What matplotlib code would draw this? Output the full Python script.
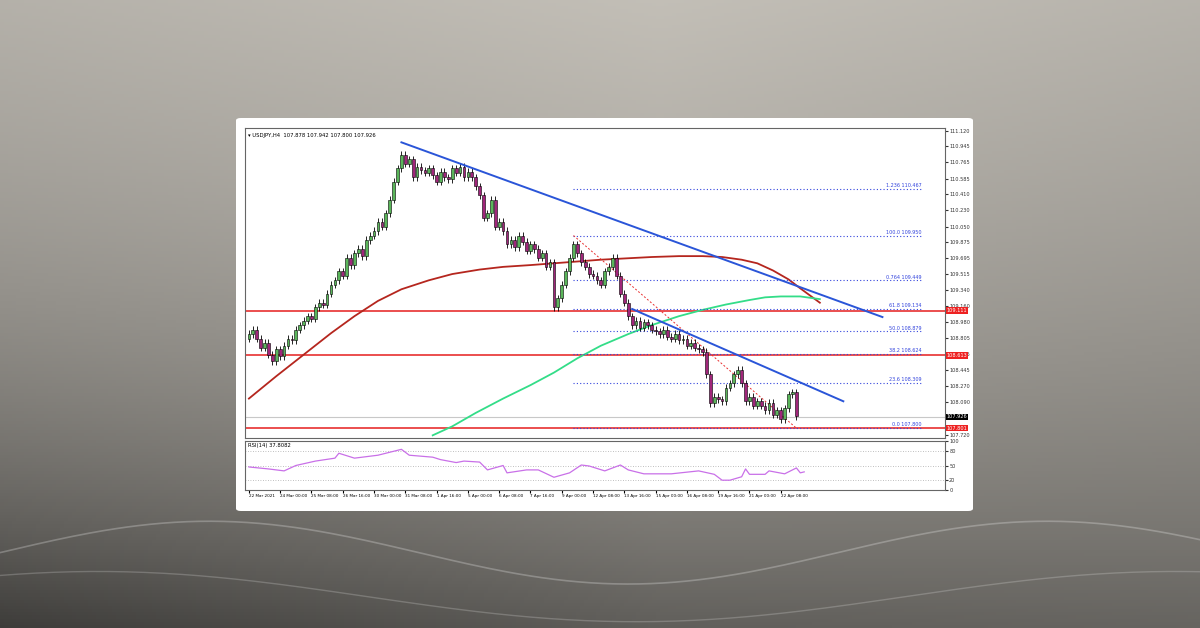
import matplotlib.pyplot as plt
import numpy as np
from matplotlib.patches import Rectangle, FancyBboxPatch

# ---- data ----
closes = [
    108.85, 108.90, 108.80, 108.70, 108.75, 108.62, 108.55, 108.68, 108.60, 108.72,
    108.80, 108.78, 108.90, 108.95, 109.00, 109.05, 109.02, 109.15, 109.20, 109.18,
    109.30, 109.40, 109.45, 109.55, 109.50, 109.70, 109.62, 109.75, 109.80, 109.72,
    109.90, 109.95, 110.00, 110.10, 110.05, 110.20, 110.35, 110.55, 110.70, 110.85,
    110.75, 110.80, 110.60, 110.72, 110.68, 110.65, 110.70, 110.62, 110.55, 110.66,
    110.60, 110.58, 110.70, 110.65, 110.72, 110.60, 110.66, 110.60, 110.50, 110.40,
    110.15, 110.20, 110.35, 110.05, 110.10, 110.00, 109.85, 109.90, 109.82, 109.95,
    109.88, 109.78, 109.85, 109.80, 109.70, 109.75, 109.60, 109.65, 109.15, 109.25,
    109.40, 109.55, 109.70, 109.85, 109.75, 109.65, 109.60, 109.52, 109.50, 109.45,
    109.40, 109.55, 109.60, 109.70, 109.50, 109.30, 109.20, 109.05, 108.95, 109.00,
    108.92, 108.98, 108.95, 108.90, 108.88, 108.85, 108.90, 108.82, 108.80, 108.85,
    108.78, 108.80, 108.72, 108.75, 108.70, 108.68, 108.65, 108.40, 108.08, 108.15,
    108.12, 108.10, 108.25, 108.30, 108.40, 108.45, 108.30, 108.10, 108.15, 108.05,
    108.10, 108.05, 108.00, 108.08, 107.95, 108.00, 107.90, 108.02, 108.18, 108.20,
    107.93,
]
first_open = 108.80

ma_red_idx = [0, 7, 14, 21, 27, 33, 39, 46, 52, 59, 65, 72, 78, 90, 103, 110, 116,
              121, 126, 130, 134, 138, 141, 146]
ma_red_val = [108.13, 108.38, 108.62, 108.86, 109.05, 109.22, 109.35, 109.45, 109.52,
              109.57, 109.60, 109.62, 109.64, 109.68, 109.71, 109.72, 109.72,
              109.71, 109.68, 109.64, 109.56, 109.46, 109.36, 109.20]
ma_green_idx = [47, 52, 58, 65, 72, 78, 84, 90, 97, 103, 110, 116, 122, 128, 132,
                136, 141, 146]
ma_green_val = [107.72, 107.82, 107.97, 108.13, 108.28, 108.42, 108.58, 108.72, 108.85,
                108.95, 109.05, 109.12, 109.18, 109.23, 109.26, 109.27, 109.27, 109.24]

trend1 = ([39, 162], [110.99, 109.04])
trend2 = ([98, 152], [109.13, 108.10])

fib_levels = [110.467, 109.950, 109.449, 109.134, 108.879, 108.624, 108.309, 107.800]
fib_names = ["1.236", "100.0", "0.764", "61.8", "50.0", "38.2", "23.6", "0.0"]
fib_diag = ([83, 140], [109.95, 107.80])

red_levels = [109.111, 108.613, 107.801]
last_price = 107.926

yticks = [111.120, 110.945, 110.765, 110.585, 110.410, 110.230, 110.050, 109.875,
          109.695, 109.515, 109.340, 109.160, 108.980, 108.805, 108.625, 108.445,
          108.270, 108.090, 107.720]

rsi_idx = [0, 5, 9, 12, 17, 22, 23, 27, 33, 39, 41, 47, 49, 53, 55, 59, 61, 65, 66,
           71, 74, 78, 82, 85, 87, 91, 95, 97, 101, 108, 115, 119, 121, 123, 126,
           127, 128, 132, 133, 137, 140, 141, 142]
rsi_val = [47, 43, 39, 50, 59, 65, 75, 65, 71, 83, 71, 67, 62, 56, 59, 57, 41, 50, 35,
           41, 41, 26, 35, 51, 49, 39, 51, 41, 33, 33, 39, 32, 20, 20, 27,
           43, 32, 32, 39, 33, 45, 35, 37]

xlabels = ["22 Mar 2021", "24 Mar 00:00", "25 Mar 08:00", "26 Mar 16:00", "30 Mar 00:00",
           "31 Mar 08:00", "1 Apr 16:00", "5 Apr 00:00", "6 Apr 08:00", "7 Apr 16:00",
           "9 Apr 00:00", "12 Apr 08:00", "13 Apr 16:00", "15 Apr 00:00", "16 Apr 08:00",
           "19 Apr 16:00", "21 Apr 00:00", "22 Apr 08:00"]

W, H = 1200, 628
fig = plt.figure(figsize=(12, 6.28), dpi=100)

# ---- background (stand-in for the banknote photo) ----
bg = fig.add_axes([0, 0, 1, 1], zorder=-5)
yy, xx = np.mgrid[0:1:200j, 0:1:300j]
shade = 0.55 + 0.22 * yy - 0.10 * np.abs(xx - 0.55) - 0.25 * (1 - yy) ** 3 * (1 - 0.6 * xx)
img = np.dstack([shade * 0.99, shade * 0.97, shade * 0.93])
bg.imshow(np.clip(img, 0, 1), extent=[0, 1, 0, 1], aspect="auto", origin="lower")
t = np.linspace(0, 1, 200)
bg.plot(t, 0.12 + 0.05 * np.sin(t * 9), color="white", alpha=0.25, lw=1.2)
bg.plot(t, 0.05 + 0.04 * np.sin(t * 7 + 1), color="white", alpha=0.2, lw=1.0)
bg.add_patch(FancyBboxPatch((236 / W, 1 - 511 / H), 737 / W, 393 / H,
                            boxstyle="round,pad=0,rounding_size=0.004",
                            facecolor="white", edgecolor="none", zorder=5))
bg.set_xlim(0, 1)
bg.set_ylim(0, 1)
bg.axis("off")

# ---- main price axes ----
ax = fig.add_axes([245 / W, 1 - 438 / H, 700 / W, 310 / H])
ax.set_xlim(-1, 178)
ax.set_ylim(107.69, 111.15)

opens = [first_open] + closes[:-1]
for i, (o, c) in enumerate(zip(opens, closes)):
    hi, lo = max(o, c) + 0.04, min(o, c) - 0.04
    ax.vlines(i, lo, hi, color="black", lw=0.6, zorder=3)
    col = "#5ab55a" if c >= o else "#a0267a"
    ax.add_patch(Rectangle((i - 0.35, min(o, c)), 0.7, max(abs(c - o), 0.005),
                           facecolor=col, edgecolor="black", lw=0.4, zorder=4))

for lvl in red_levels:
    ax.axhline(lvl, color="#e83030", lw=1.2, zorder=2)
ax.axhline(last_price, color="#c8c8c8", lw=0.8, zorder=1)

ax.plot(ma_red_idx, ma_red_val, color="#b5261e", lw=1.3, zorder=2)
ax.plot(ma_green_idx, ma_green_val, color="#33dd88", lw=1.3, zorder=2)
ax.plot(*trend1, color="#2a55d8", lw=1.4, zorder=5)
ax.plot(*trend2, color="#2a55d8", lw=1.4, zorder=5)

for lvl, name in zip(fib_levels, fib_names):
    ax.plot([83, 172], [lvl, lvl], color="#3344dd", lw=0.8, ls=(0, (1, 2)), zorder=2)
    ax.text(172, lvl + 0.01, f"{name} {lvl:.3f}", color="#3344dd", fontsize=3.5,
            ha="right", va="bottom")
ax.plot(*fib_diag, color="#e83030", lw=0.7, ls=(0, (2, 2)), zorder=2)

ax.yaxis.tick_right()
ax.set_yticks(yticks)
ax.set_yticklabels([f"{v:.3f}" for v in yticks])
ax.tick_params(axis="y", labelsize=3.6, length=2, pad=1, colors="#333333")
ax.set_xticks([])
for lvl, face in zip(red_levels + [last_price], ["#ee2222"] * 3 + ["black"]):
    ax.text(1.002, lvl, f"{lvl:.3f}", transform=ax.get_yaxis_transform(),
            fontsize=3.6, color="white", va="center", ha="left",
            bbox=dict(facecolor=face, edgecolor="none", pad=0.6), zorder=6)
ax.text(0.005, 0.985, "\u25be USDJPY,H4  107.878 107.942 107.800 107.926",
        transform=ax.transAxes, fontsize=3.8, va="top", ha="left")
for s in ax.spines.values():
    s.set_color("#666666")
    s.set_linewidth(0.8)

# ---- RSI axes ----
rx = fig.add_axes([245 / W, 1 - 490 / H, 700 / W, 49 / H])
rx.set_xlim(-1, 178)
rx.set_ylim(0, 100)
for lvl in [80, 50, 20]:
    rx.axhline(lvl, color="#aaaaaa", lw=0.6, ls=(0, (1, 2)))
rx.plot(rsi_idx, rsi_val, color="#c970e8", lw=0.9)
rx.yaxis.tick_right()
rx.set_yticks([0, 20, 50, 80, 100])
rx.tick_params(axis="y", labelsize=3.6, length=2, pad=1, colors="#333333")
rx.set_xticks(np.arange(len(xlabels)) * 8)
rx.set_xticklabels(xlabels, fontsize=3.0, ha="left")
rx.tick_params(axis="x", length=2, pad=1)
rx.text(0.004, 0.95, "RSI(14) 37.8082", transform=rx.transAxes, fontsize=3.8,
        va="top", ha="left")
for s in rx.spines.values():
    s.set_color("#666666")
    s.set_linewidth(0.8)

fig.savefig("out.png", dpi=100)
